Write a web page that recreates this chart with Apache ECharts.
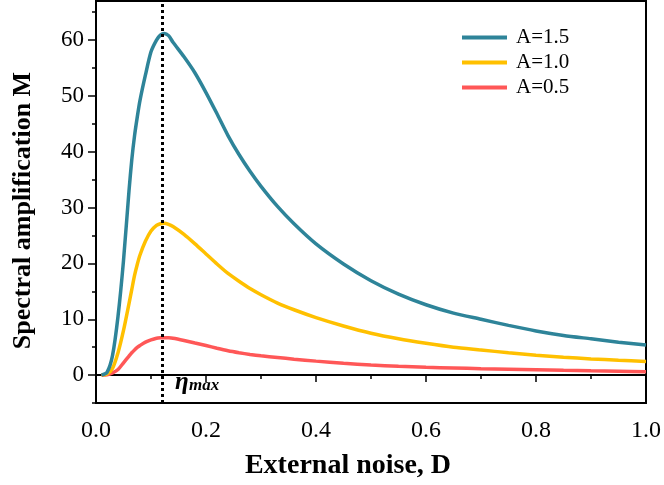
<!DOCTYPE html>
<html><head><meta charset="utf-8">
<script src="https://cdn.jsdelivr.net/npm/echarts@6/dist/echarts.min.js"></script>
<style>html,body{margin:0;padding:0;background:#fff}#c{width:664px;height:485px}</style>
</head><body><div id="c"></div>
<script>
const noiseD = [0.01,0.02,0.03,0.04,0.05,0.06,0.065,0.07,0.075,0.08,0.09,0.10,0.11,0.117,0.124,0.132,0.14,0.16,0.18,0.20,0.22,0.24,0.26,0.28,0.30,0.33,0.36,0.40,0.45,0.50,0.55,0.60,0.65,0.70,0.75,0.80,0.85,0.90,0.95,1.00];
const mA15 = [0,0.5,3.5,10.5,20.5,33.0,38.5,42.8,46.2,49.2,53.8,57.9,60.0,60.9,61.2,60.8,59.6,57.0,54.1,50.6,46.8,42.9,39.5,36.5,33.8,30.2,27.1,23.5,19.9,16.9,14.5,12.6,11.1,10.0,8.9,7.9,7.1,6.5,5.9,5.4];
const mA10 = [0,0.2,1.2,4.0,8.0,12.8,15.3,17.8,19.8,21.5,24.0,25.8,26.8,27.1,27.2,27.0,26.6,25.2,23.5,21.7,19.9,18.2,16.8,15.5,14.4,12.9,11.7,10.3,8.8,7.5,6.5,5.7,5.0,4.5,4.0,3.55,3.2,2.9,2.65,2.45];
const mA05 = [0,0.05,0.4,1.0,2.2,3.4,4.0,4.5,4.95,5.3,5.9,6.3,6.6,6.68,6.7,6.68,6.6,6.2,5.75,5.3,4.8,4.35,4.0,3.7,3.45,3.15,2.85,2.5,2.1,1.8,1.57,1.4,1.27,1.15,1.05,0.95,0.85,0.76,0.68,0.6];
const seriesNames = ['A=1.5','A=1.0','A=0.5'];
const yMajor = [0,10,20,30,40,50,60];
const yMinor = [-5,5,15,25,35,45,55,65];
const etaMaxD = 0.124;

const colors = ['#2e8499','#ffc000','#ff5757'];
const FONT = '"Liberation Serif","Times New Roman",serif';
const pairs = arr => noiseD.map((d,i)=>[d,arr[i]]);

const chart = echarts.init(document.getElementById('c'));
chart.setOption({
  animation:false,
  grid:{left:96,right:18,top:1,bottom:81,show:true,borderColor:'#000',borderWidth:2,containLabel:false},
  xAxis:{type:'value',min:0,max:1,interval:0.2,
    name:'External noise, D',nameLocation:'middle',nameGap:49,
    nameTextStyle:{fontFamily:FONT,fontWeight:'bold',fontSize:28,color:'#000',padding:[0,46,0,0]},
    axisLine:{show:true,lineStyle:{color:'#000',width:2}},
    axisTick:{show:true,inside:false,length:7,lineStyle:{color:'#000',width:1.5}},
    minorTick:{show:true,splitNumber:2,length:4,lineStyle:{color:'#000',width:1.5}},
    axisLabel:{fontFamily:FONT,fontSize:24,color:'#000',margin:16,formatter:v=>v.toFixed(1),showMaxLabel:true,showMinLabel:true},
    splitLine:{show:false}},
  yAxis:[{type:'value',min:-5,max:67,position:'left',
    name:'Spectral amplification M',nameLocation:'middle',nameGap:60,
    nameTextStyle:{fontFamily:FONT,fontWeight:'bold',fontSize:26,color:'#000',padding:[0,17,0,0]},
    axisLine:{show:true,onZero:false,lineStyle:{color:'#000',width:2}},
    axisTick:{show:true,length:8,customValues:yMajor,lineStyle:{color:'#000',width:1.5}},
    axisLabel:{fontFamily:FONT,fontSize:23,color:'#000',margin:12,customValues:yMajor},
    splitLine:{show:false}},
   {type:'value',min:-5,max:67,position:'left',
    axisLine:{show:false},
    axisTick:{show:true,length:4,customValues:yMinor,lineStyle:{color:'#000',width:1.5}},
    axisLabel:{show:false},splitLine:{show:false}}],
  legend:{orient:'vertical',left:457,top:22,icon:'rect',itemWidth:45,itemHeight:4,itemGap:4,
    data:seriesNames,
    textStyle:{fontFamily:FONT,fontSize:21,color:'#000',padding:[0,0,0,4]}},
  series:[mA15,mA10,mA05].map((arr,i)=>({
    name:seriesNames[i],type:'line',data:pairs(arr),smooth:0.25,symbol:'none',
    lineStyle:{color:colors[i],width:3.5},itemStyle:{color:colors[i]},
    z:3-i,
    markLine: i===0 ? {silent:true,symbol:'none',label:{show:false},
      lineStyle:{color:'#000',type:[3,3],width:3},
      data:[{xAxis:etaMaxD}]} : undefined
  })),
  graphic:[
    {type:'text',left:175,top:370,style:{text:'η',font:'bold italic 25px "Liberation Serif"',fill:'#000'}},
    {type:'text',left:189,top:377,style:{text:'max',font:'bold italic 17px "Liberation Serif"',fill:'#000'}}
  ]
});
</script></body></html>
